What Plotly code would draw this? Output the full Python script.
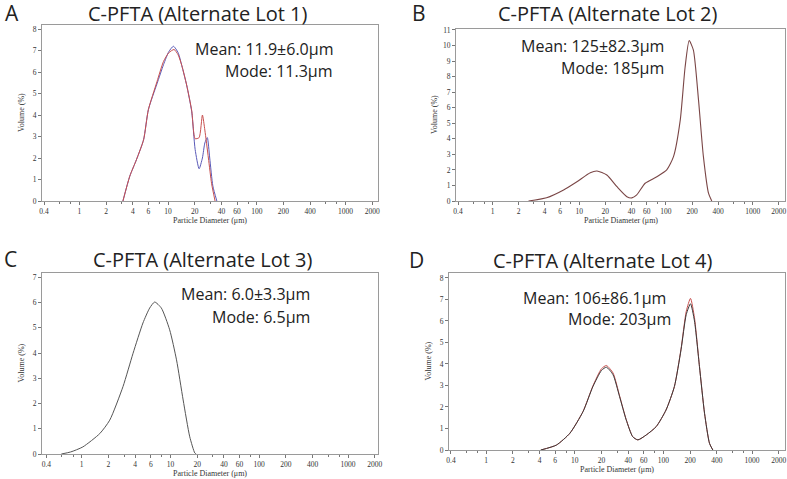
"""Particle size distributions for four alternate C-PFTA lots."""

import plotly.graph_objects as go

W, H = 787, 479

# Panel A - Alternate Lot 1 (two overlaid runs)
lot1_red_d = [3.1, 3.7, 4.4, 5.3, 6.0, 7.5, 8.9, 10.2, 11.7, 13.0, 14.3, 16.2, 18.5, 20.2, 22.4, 24.4, 26.0, 28.5, 31.0, 33.9]
lot1_red_v = [0, 1.15, 1.92, 2.85, 4.25, 5.55, 6.5, 6.9, 7.05, 6.8, 6.3, 5.4, 4.2, 2.9, 2.95, 4.0, 3.3, 2.0, 0.8, 0]
lot1_blue_d = [3.1, 3.7, 4.4, 5.3, 6.0, 7.5, 8.9, 10.2, 11.5, 13.0, 14.3, 16.2, 18.5, 20.2, 22.4, 24.4, 26.0, 27.7, 29.5, 32.0, 35.5]
lot1_blue_v = [0, 1.15, 1.92, 2.85, 4.25, 5.45, 6.35, 6.95, 7.2, 6.9, 6.3, 5.4, 4.15, 2.4, 1.5, 2.0, 2.7, 2.95, 2.0, 0.7, 0]

# Panel B - Alternate Lot 2
lot2_d = [2.6, 4.2, 6.6, 9.4, 13.4, 16, 20.8, 27.2, 35.4, 40.4, 46, 57.5, 78.5, 102, 122, 146, 166, 185, 207, 237, 270, 309, 337]
lot2_v = [0, 0.21, 0.71, 1.24, 1.82, 1.93, 1.67, 0.92, 0.28, 0.2, 0.39, 1.14, 1.56, 2.0, 2.85, 5.2, 8.6, 10.31, 9.7, 6.5, 2.85, 0.5, 0]

# Panel C - Alternate Lot 3
lot3_d = [0.59, 0.75, 1.03, 1.6, 2.07, 2.92, 3.79, 4.9, 5.83, 6.64, 7.9, 9.8, 11.7, 13.9, 16.5, 18.8, 19.5]
lot3_v = [0, 0.08, 0.28, 0.81, 1.34, 2.67, 3.99, 5.19, 5.78, 6.02, 5.78, 4.92, 3.73, 2.14, 0.68, 0.04, 0]

# Panel D - Alternate Lot 4 (two overlaid runs)
lot4_d = [4.13, 6.2, 8.8, 12.4, 16, 20, 22.7, 27, 32, 38, 45, 51.5, 64, 83, 107, 133, 158, 181, 202, 224, 255, 291, 331, 361]
lot4_black_v = [0, 0.23, 0.78, 1.79, 2.95, 3.7, 3.85, 3.5, 2.48, 1.4, 0.62, 0.47, 0.7, 1.09, 1.86, 2.95, 4.66, 6.3, 6.8, 6.0, 3.88, 1.71, 0.31, 0]
lot4_red_v = [0, 0.23, 0.78, 1.8, 2.98, 3.78, 3.93, 3.58, 2.52, 1.42, 0.62, 0.47, 0.7, 1.09, 1.86, 2.95, 4.7, 6.45, 7.05, 6.15, 3.9, 1.71, 0.31, 0]

tick_vals = [0.4, 1, 2, 4, 6, 10, 20, 40, 60, 100, 200, 400, 1000, 2000]
tick_text = ["0.4", "1", "2", "4", "6", "10", "20", "40", "60", "100", "200", "400", "1000", "2000"]
minor_vals = [0.6, 0.8, 3, 8, 30, 80, 600, 800]

titles = ["C-PFTA (Alternate Lot 1)", "C-PFTA (Alternate Lot 2)",
          "C-PFTA (Alternate Lot 3)", "C-PFTA (Alternate Lot 4)"]
letters = ["A", "B", "C", "D"]
mean_text = ["Mean: 11.9±6.0μm", "Mean: 125±82.3μm", "Mean: 6.0±3.3μm", "Mean: 106±86.1μm"]
mode_text = ["Mode: 11.3μm", "Mode: 185μm", "Mode: 6.5μm", "Mode: 203μm"]
y_max = [8, 11, 7, 8]

# plot boxes in pixels: left, right, top, bottom
boxes = [(42, 378, 25, 201), (456, 785, 29, 201), (42, 378, 273, 454), (449, 785, 273, 450)]
x_ranges = [(-0.421, 3.367), (-0.421, 3.372), (-0.447, 3.338), (-0.420, 3.372)]
y_tops = [8.19, 11.06, 7.17, 8.23]

RED = "#c8504f"
BLUE = "#5a5ab8"
DARK = "#3a3a3a"
SERIF = "Liberation Serif"
SANS = "Open Sans"


def px(x, y):
    return x / W, 1 - y / H


def line(x, y, ax, color, width=1):
    n = "" if ax == 1 else str(ax)
    return go.Scatter(x=x, y=y, xaxis="x" + n, yaxis="y" + n, mode="lines",
                      line=dict(color=color, width=width, shape="spline", smoothing=0.6))


fig = go.Figure()
fig.add_trace(line(lot1_blue_d, lot1_blue_v, 1, BLUE))
fig.add_trace(line(lot1_red_d, lot1_red_v, 1, RED))
fig.add_trace(line(lot2_d, lot2_v, 2, "#7a4646", 1.1))
fig.add_trace(line(lot3_d, lot3_v, 3, "#555555"))
fig.add_trace(line(lot4_d, lot4_red_v, 4, RED))
fig.add_trace(line(lot4_d, lot4_black_v, 4, DARK))

annotations = []


def note(x, y, text, font, xanchor="center", **kw):
    ax, ay = px(x, y)
    annotations.append(dict(x=ax, y=ay, xref="paper", yref="paper", text=text,
                            xanchor=xanchor, yanchor="middle",
                            showarrow=False, font=font, **kw))


for i, (l, r, t, b) in enumerate(boxes):
    n = "" if i == 0 else str(i + 1)
    x0, y0 = px(l, b)
    x1, y1 = px(r, t)
    axis_common = dict(showgrid=False, zeroline=False, showline=True, mirror=True, automargin=False,
                       linecolor="#9a9a9a", linewidth=1, ticks="outside", ticklen=3,
                       tickcolor="#777", tickfont=dict(family=SERIF, size=7.5, color="#333"))
    fig.update_layout({
        "xaxis" + n: dict(axis_common, type="log", domain=[x0, x1], range=list(x_ranges[i]),
                          anchor="y" + n, tickvals=tick_vals, ticktext=tick_text,
                          minor=dict(tickvals=minor_vals, ticks="outside", ticklen=2, tickcolor="#777")),
        "yaxis" + n: dict(axis_common, domain=[y0, y1], range=[0, y_tops[i]], anchor="x" + n,
                          tickvals=list(range(0, y_max[i] + 1))),
    })
    note((l + r) / 2, b + 19, "Particle Diameter (μm)", dict(family=SERIF, size=8, color="#333"))
    note(l - 21, (t + b) / 2, "Volume (%)", dict(family=SERIF, size=8, color="#333"), textangle=-90)

centers = [(198, 13), (608, 13), (203, 259), (603, 260)]
letter_pos = [(12, 13), (419, 13), (10, 259), (416, 260)]
mean_pos = [(335, 49), (666, 46), (312, 294), (668, 298)]
mode_pos = [(335, 71), (666, 68), (312, 317), (673, 319)]
for i in range(4):
    note(*centers[i], titles[i], dict(family=SANS, size=20, color="#222"))
    note(*letter_pos[i], letters[i], dict(family=SANS, size=21, color="#222"))
    note(*mean_pos[i], mean_text[i], dict(family=SANS, size=16, color="#222"), xanchor="right")
    note(*mode_pos[i], mode_text[i], dict(family=SANS, size=16, color="#222"), xanchor="right")

fig.update_layout(
    width=W, height=H, margin=dict(l=0, r=0, t=0, b=0, autoexpand=False),
    paper_bgcolor="white", plot_bgcolor="white", showlegend=False,
    annotations=annotations,
)

# drop the browser's default body margin so the figure sits at the page origin
fig.write_html("out.html", config={"displayModeBar": False},
               post_script="document.body.style.margin='0';document.body.style.overflow='hidden';")
